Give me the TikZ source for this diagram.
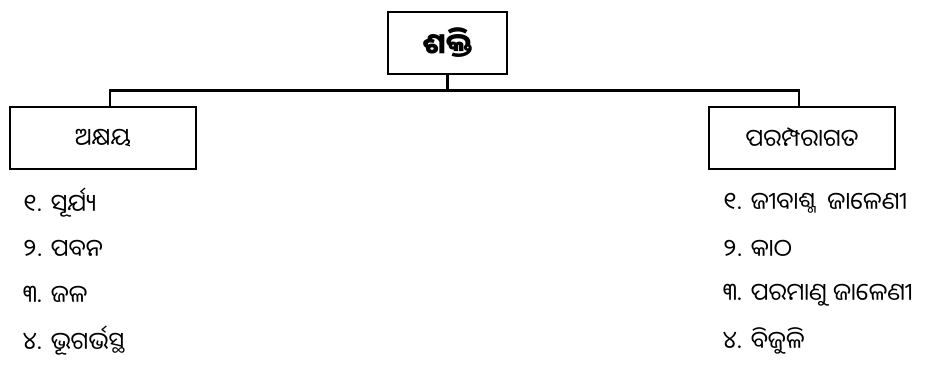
\documentclass[tikz,border=0pt]{standalone}
\usepackage{fontspec}
\newfontfamily\odia[Script=Oriya]{Noto Sans Oriya UI}
\usetikzlibrary{positioning}

\begin{document}
\begin{tikzpicture}[
    x=1pt, y=-1pt,
    headbox/.style={rectangle, draw, line width=1.5pt, align=center, minimum width=119pt, minimum height=62pt, font=\odia\fontsize{29}{33}\selectfont\bfseries},
    typebox/.style={rectangle, draw, line width=1.5pt, align=center, minimum width=186pt, minimum height=62pt, font=\odia\fontsize{24}{28}\selectfont},
    item/.style={anchor=west, inner sep=0pt, font=\odia\fontsize{24}{28}\selectfont},
    bus/.style={line width=2.8pt}
]
\useasboundingbox (0,0) rectangle (940,373);

\node[headbox] (shakti)   at (447.5, 43) {ଶକ୍ତି};
\node[typebox] (akshaya)  at (103, 138)  {ଅକ୍ଷୟ};
\node[typebox] (parampara) at (802, 138) {ପରମ୍ପରାଗତ};

% Items of renewable energy
\node[item] (ak1) at (23, 203) {୧. ସୂର୍ଯ୍ୟ};
\node[item] (ak2) at (23, 249) {୨. ପବନ};
\node[item] (ak3) at (23, 295) {୩. ଜଳ};
\node[item] (ak4) at (23, 341) {୪. ଭୂଗର୍ଭସ୍ଥ};

% Items of conventional energy
\node[item] (pa1) at (723, 203) {୧. ଜୀବାଶ୍ମ\ \ ଜାଳେଣୀ};
\node[item] (pa2) at (723, 249) {୨. କାଠ};
\node[item] (pa3) at (723, 295) {୩. ପରମାଣୁ ଜାଳେଣୀ};
\node[item] (pa4) at (723, 341) {୪. ବିଜୁଳି};

% Tree lines
\draw[bus] (shakti.south) -- ++(0,16) coordinate (junc);
\draw[bus] ([xshift=7pt]akshaya.north) |- (junc) -| ([xshift=-3pt]parampara.north);

\end{tikzpicture}
\end{document}
